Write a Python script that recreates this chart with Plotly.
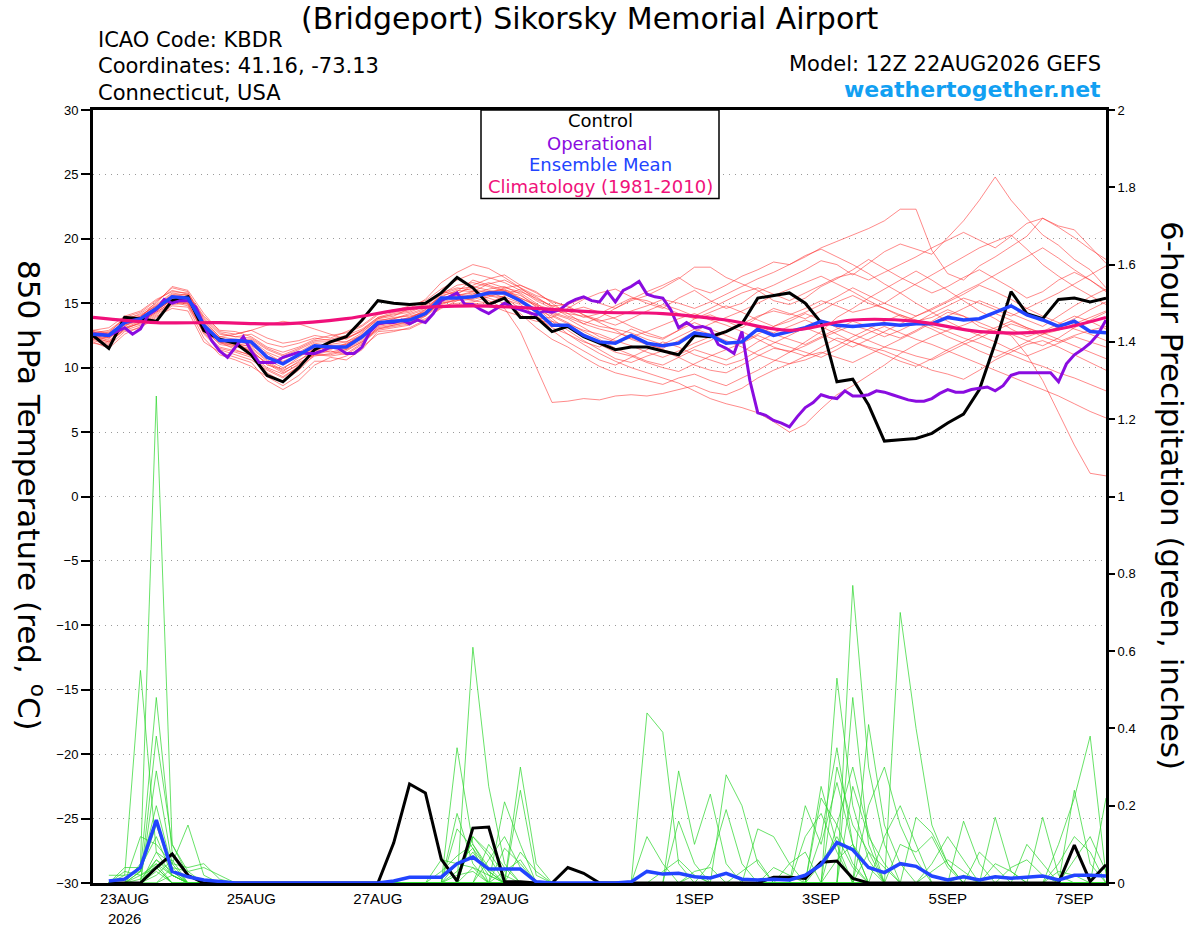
import pandas as pd
import plotly.graph_objects as go

FONT = "Liberation Sans, Arial, Helvetica, sans-serif"
WIDE_FONT = "DejaVu Sans, Verdana, sans-serif"

# ---- time axes ----
times_6h = pd.date_range("2026-08-22 12:00", periods=65, freq="6h")
times_3h = pd.date_range("2026-08-22 12:00", periods=129, freq="3h")
times_clim = pd.date_range("2026-08-22 12:00", periods=17, freq="D")
times_precip = times_6h[1:]

tick_dates = ["2026-08-23", "2026-08-25", "2026-08-27", "2026-08-29",
              "2026-09-01", "2026-09-03", "2026-09-05", "2026-09-07"]
tick_labels = ["23AUG<br>2026", "25AUG", "27AUG", "29AUG",
               "1SEP", "3SEP", "5SEP", "7SEP"]

# ---- 850 hPa temperature (deg C), 6-hourly ----
control_temp = [12.5, 11.5, 13.9, 13.8, 13.6, 15.2, 15.5, 12.9, 12.2, 11.9, 11.0, 9.4, 8.9, 10.0, 11.4,
                12.0, 12.4, 13.7, 15.2, 15.0, 14.9, 15.0, 15.8, 17.0, 16.2, 14.9, 15.4, 13.9, 13.9, 12.8,
                13.2, 12.4, 11.9, 11.4, 11.6, 11.6, 11.3, 11.0, 12.5, 12.4, 12.8, 13.4, 15.4, 15.6, 15.8,
                15.0, 13.5, 8.9, 9.1, 7.1, 4.3, 4.4, 4.5, 4.9, 5.7, 6.4, 8.3, 11.9, 15.9, 14.2,
                13.8, 15.3, 15.4, 15.1, 15.4]

mean_temp = [12.6, 12.5, 13.5, 13.8, 14.6, 15.5, 15.4, 13.3, 12.1, 12.1, 12.0, 10.8, 10.3, 11.0, 11.7,
             11.6, 11.6, 12.4, 13.5, 13.6, 13.7, 14.2, 15.4, 15.4, 15.5, 15.8, 15.8, 15.2, 14.4, 13.3,
             13.3, 12.5, 12.0, 11.9, 12.5, 11.9, 11.7, 11.9, 12.7, 12.5, 11.9, 12.0, 13.0, 12.5, 12.8,
             13.1, 13.6, 13.3, 13.2, 13.3, 13.4, 13.3, 13.4, 13.4, 13.9, 13.7, 13.8, 14.3, 14.8, 14.1,
             13.7, 13.2, 13.6, 12.8, 12.7]

# operational run, 3-hourly
oper_temp = [12.6, 12.6, 12.5, 12.8, 13.1, 12.6, 13.0, 14.1, 14.5, 15.3,
             15.0, 15.2, 15.2, 14.7, 13.3, 12.1, 11.3, 10.8, 11.6, 12.4,
             11.3, 10.4, 10.4, 10.4, 10.8, 11.0, 11.2, 11.1, 11.1, 11.3,
             11.6, 11.5, 11.1, 11.1, 11.6, 12.8, 13.4, 13.5, 13.5, 13.7,
             13.4, 13.7, 13.5, 14.2, 15.2, 15.5, 15.8, 14.9, 14.9, 14.5,
             14.2, 14.6, 15.0, 14.7, 14.5, 14.3, 14.1, 14.4, 14.3, 14.5,
             15.0, 15.3, 15.5, 15.2, 15.1, 15.9, 15.1, 16.0, 16.3, 16.7,
             15.7, 15.5, 15.4, 14.5, 13.1, 13.5, 13.1, 13.2, 13.0, 11.8,
             11.5, 11.1, 12.8, 9.0, 6.5, 6.3, 5.9, 5.7, 5.4, 6.2,
             6.9, 7.3, 7.9, 7.7, 7.6, 8.2, 7.8, 7.8, 7.9, 8.2,
             8.1, 7.9, 7.7, 7.5, 7.4, 7.4, 7.6, 8.0, 8.3, 8.1,
             8.1, 8.3, 8.4, 8.5, 8.2, 8.6, 9.4, 9.6, 9.6, 9.6,
             9.6, 9.6, 8.9, 10.3, 11.0, 11.4, 11.9, 12.6, 13.7]

# climatology (1981-2010), daily
clim_temp = [13.9, 13.5, 13.5, 13.4, 13.8, 14.6, 14.8, 14.6, 14.3, 14.2, 13.7, 12.9, 13.7, 13.6,
             12.8, 12.8, 13.9]

# ensemble members (red)
m01 = [12.8, 12.3, 13.6, 14.0, 14.9, 15.8, 15.6, 13.0, 11.8, 11.6, 11.4, 10.2, 9.9, 10.8, 11.6, 11.9, 12.3, 12.9, 13.8, 14.2, 14.4, 14.9, 15.8, 16.2, 16.0,
       15.9, 15.4, 14.6, 13.8, 13.9, 14.6, 15.3, 15.8, 16.1, 15.5, 15.0, 14.6, 15.4, 16.0, 15.2, 14.6, 15.0, 15.9, 16.4, 17.0,
       17.6, 18.3, 18.0, 17.2, 18.1, 19.0, 19.6, 19.2, 18.8, 20.1, 21.4, 23.0, 24.8, 23.0, 21.6, 20.3, 19.5, 18.4, 17.6, 16.2]
m02 = [12.4, 12.0, 13.2, 13.9, 15.1, 16.2, 15.9, 13.4, 12.0, 11.4, 10.9, 9.6, 8.9, 9.8, 11.0, 11.3, 11.0, 11.8, 13.2, 13.4, 13.6, 14.0, 15.2, 15.7, 16.4,
       16.9, 17.2, 16.4, 15.9, 15.0, 14.2, 13.4, 13.9, 14.6, 15.3, 15.9, 16.4, 17.0, 16.2, 15.8, 16.4, 17.1, 17.6, 18.2, 18.0,
       18.6, 19.3, 19.8, 20.3, 20.8, 21.4, 22.3, 22.3, 19.1, 17.3, 16.8, 17.9, 18.6, 19.4, 20.2, 21.6, 21.0, 20.7, 19.4, 18.1]
m03 = [12.1, 11.8, 13.1, 13.4, 14.2, 15.0, 15.1, 13.1, 12.2, 12.0, 11.8, 11.1, 10.4, 10.9, 11.4, 11.2, 11.5, 12.1, 13.1, 13.3, 13.5, 14.1, 15.0, 15.2, 15.3,
       15.6, 15.3, 14.9, 14.0, 13.1, 12.6, 12.0, 11.6, 12.3, 13.0, 12.5, 12.2, 12.9, 13.8, 14.1, 13.6, 13.1, 13.9, 14.6, 14.2,
       13.8, 14.4, 15.1, 15.6, 15.0, 14.6, 14.1, 13.6, 13.9, 14.5, 14.0, 13.2, 12.8, 12.5, 11.0, 9.0, 6.5, 4.0, 1.8, 1.6]
m04 = [12.3, 12.6, 13.3, 13.6, 14.4, 15.3, 15.0, 12.6, 11.4, 11.0, 10.6, 9.8, 9.2, 10.1, 11.3, 11.7, 11.8, 12.6, 13.6, 13.9, 14.0, 14.3, 15.2, 15.6, 15.8,
       15.2, 14.6, 12.8, 10.1, 7.3, 7.4, 7.6, 7.5, 7.8, 7.9, 7.8, 8.0, 8.3, 8.6, 8.1, 7.9, 8.4, 9.2, 9.8, 10.3,
       10.9, 11.2, 10.8, 10.4, 11.0, 11.6, 11.3, 10.9, 10.6, 11.2, 11.8, 12.3, 12.9, 13.4, 13.0, 12.4, 12.0, 12.5, 12.9, 13.2]
m05 = [12.9, 12.7, 13.9, 14.3, 15.2, 16.0, 15.7, 13.8, 12.6, 12.4, 12.6, 11.9, 11.6, 11.9, 12.3, 12.1, 12.0, 12.7, 13.8, 14.0, 14.6, 15.3, 16.6, 17.4, 18.0,
       17.7, 17.0, 16.2, 15.3, 14.8, 14.9, 15.4, 15.0, 14.6, 15.2, 15.6, 16.2, 16.9, 17.8, 17.8, 17.0, 16.5, 16.0, 15.2, 14.9,
       15.4, 16.3, 16.9, 17.6, 18.4, 17.7, 17.0, 16.4, 15.8, 16.3, 17.0, 17.6, 16.9, 16.2, 15.4, 15.9, 16.8, 17.4, 16.8, 16.0]
m06 = [12.0, 11.5, 12.6, 13.2, 14.0, 14.6, 14.4, 12.0, 11.2, 10.8, 10.4, 9.0, 8.3, 9.0, 10.2, 10.8, 10.6, 11.4, 12.8, 12.9, 13.0, 13.6, 14.8, 15.0, 15.1,
       15.5, 15.9, 15.6, 14.9, 13.8, 12.9, 12.1, 11.4, 10.7, 10.4, 10.9, 11.3, 10.8, 10.2, 9.8, 9.6, 10.2, 10.9, 11.5, 11.3,
       10.9, 11.6, 12.3, 12.0, 11.6, 11.3, 10.8, 10.3, 9.8, 9.5, 9.1, 9.8, 10.6, 11.2, 11.8, 12.1, 11.6, 11.0, 10.4, 9.8]
m07 = [12.7, 12.9, 13.8, 14.1, 14.8, 15.6, 15.2, 13.6, 12.4, 12.6, 12.9, 12.3, 11.9, 12.1, 12.5, 12.3, 12.8, 13.3, 14.2, 14.5, 14.6, 14.9, 15.9, 15.7, 15.4,
       15.9, 16.1, 15.4, 14.8, 14.2, 13.8, 13.1, 12.4, 12.0, 12.3, 11.9, 11.4, 11.0, 11.6, 12.1, 12.8, 13.4, 14.0, 14.4, 14.1,
       14.6, 15.2, 14.8, 14.3, 14.6, 15.0, 15.8, 16.5, 17.2, 17.9, 18.6, 19.3, 19.8, 20.3, 19.2, 18.0, 17.1, 16.3, 15.6, 14.9]
m08 = [12.5, 12.1, 13.0, 13.5, 14.3, 15.1, 15.3, 13.3, 12.1, 11.9, 11.6, 10.6, 10.0, 10.6, 11.2, 11.4, 11.9, 12.3, 13.4, 13.6, 13.8, 14.5, 15.6, 15.9, 16.8,
       16.4, 16.0, 15.8, 15.0, 14.1, 13.5, 12.8, 12.2, 11.5, 11.0, 10.5, 10.2, 10.8, 11.4, 11.0, 10.6, 11.2, 12.0, 12.6, 12.2,
       11.8, 12.4, 13.0, 13.6, 13.2, 12.7, 12.3, 12.9, 13.6, 14.3, 14.0, 13.5, 13.0, 12.6, 12.1, 11.7, 12.3, 13.1, 13.7, 14.3]
m09 = [12.2, 12.4, 13.5, 13.7, 14.5, 15.2, 14.9, 12.8, 11.6, 11.3, 11.0, 10.0, 9.5, 10.3, 11.0, 11.0, 11.3, 12.0, 13.0, 13.2, 13.4, 13.8, 14.6, 15.2, 15.6,
       15.4, 15.0, 14.2, 13.1, 12.2, 11.6, 10.8, 10.1, 9.6, 9.3, 9.0, 8.7, 9.2, 9.5, 9.0, 8.6, 9.2, 9.8, 10.5, 11.2,
       12.0, 12.8, 13.9, 14.6, 15.4, 16.1, 16.8, 17.5, 16.8, 16.0, 15.2, 14.4, 13.8, 13.0, 12.4, 12.8, 13.4, 14.0, 13.6, 13.0]
m10 = [12.6, 12.8, 13.7, 14.2, 15.0, 16.3, 16.0, 14.2, 12.8, 12.6, 12.9, 13.3, 13.6, 13.4, 13.0, 12.6, 12.2, 12.9, 13.9, 14.3, 14.5, 14.7, 15.5, 16.0, 15.9,
       15.6, 15.5, 15.0, 14.6, 14.3, 13.9, 13.4, 13.0, 12.7, 12.4, 12.8, 13.3, 13.8, 14.2, 13.7, 13.3, 12.8, 12.2, 11.6, 11.2,
       11.7, 12.3, 12.8, 13.3, 12.9, 12.4, 12.9, 13.5, 14.2, 14.8, 15.4, 15.0, 14.5, 14.0, 14.6, 15.2, 15.8, 16.5, 17.2, 17.9]
m11 = [12.4, 12.2, 13.4, 13.9, 14.7, 15.5, 15.4, 13.5, 12.3, 12.0, 11.2, 10.4, 9.7, 10.5, 11.5, 11.8, 12.0, 12.5, 13.3, 13.5, 13.9, 14.4, 15.3, 15.5, 15.2,
       15.0, 15.6, 16.1, 15.5, 14.7, 14.0, 13.6, 13.2, 13.0, 12.7, 12.2, 11.8, 12.4, 13.0, 12.6, 12.1, 11.6, 11.0, 10.6, 10.3,
       10.6, 11.1, 11.7, 12.4, 13.0, 13.6, 14.1, 13.7, 13.2, 12.8, 12.3, 11.9, 11.4, 11.0, 10.5, 10.1, 9.6, 9.2, 8.7, 8.2]
m12 = [12.7, 12.5, 13.3, 13.8, 14.6, 15.4, 15.5, 13.7, 12.4, 12.2, 12.2, 11.4, 10.9, 11.4, 12.0, 12.0, 12.3, 12.8, 13.7, 13.8, 14.1, 14.5, 15.7, 16.4, 16.6,
       16.3, 15.9, 15.4, 14.9, 14.5, 14.2, 14.0, 13.6, 13.9, 14.4, 14.8, 15.3, 15.0, 14.6, 15.1, 15.7, 16.3, 16.9, 17.4, 18.0,
       18.7, 19.2, 18.6, 18.0, 17.3, 16.5, 15.8, 15.0, 14.3, 13.6, 13.0, 12.5, 12.0, 11.4, 10.9, 11.4, 11.9, 12.4, 12.0, 11.6]
m13 = [12.3, 12.0, 12.9, 13.3, 14.1, 14.9, 15.0, 12.9, 11.9, 11.7, 11.5, 10.5, 9.8, 10.4, 11.0, 10.9, 11.1, 11.9, 12.9, 13.1, 13.3, 14.0, 14.9, 15.3, 15.6,
       15.9, 16.0, 15.3, 14.2, 12.9, 12.0, 11.3, 10.6, 10.2, 10.8, 11.4, 12.0, 11.6, 11.0, 10.6, 10.2, 10.6, 11.3, 11.9, 12.5,
       13.1, 12.6, 12.1, 11.6, 12.2, 12.8, 13.4, 14.0, 14.6, 15.2, 15.9, 16.5, 17.2, 17.9, 18.6, 19.3, 18.5, 17.6, 16.8, 15.9]
m14 = [12.9, 13.1, 14.0, 14.4, 15.3, 15.9, 15.8, 14.0, 12.9, 12.8, 12.4, 11.6, 11.2, 11.6, 12.2, 12.5, 12.7, 13.2, 14.1, 14.4, 14.8, 15.2, 16.1, 16.8, 17.3,
       17.0, 16.6, 16.0, 15.2, 14.6, 14.4, 14.7, 14.3, 13.8, 13.2, 12.7, 12.3, 12.9, 13.5, 13.0, 12.5, 12.0, 12.6, 13.2, 13.8,
       14.3, 14.9, 15.5, 16.2, 15.6, 15.0, 14.5, 14.0, 14.5, 15.1, 15.7, 16.4, 15.9, 15.3, 14.6, 14.0, 13.5, 13.0, 12.6, 12.1]
m15 = [11.9, 11.7, 12.8, 13.1, 13.9, 14.8, 14.7, 12.3, 11.0, 10.6, 10.1, 9.3, 8.6, 9.4, 10.5, 10.5, 10.9, 11.6, 12.6, 12.8, 13.1, 13.7, 14.7, 14.9, 15.0,
       14.9, 14.4, 14.0, 13.6, 13.6, 13.2, 12.6, 11.8, 11.2, 10.9, 10.4, 10.0, 9.7, 10.3, 10.9, 11.4, 11.9, 12.5, 12.0, 11.6,
       11.2, 10.8, 11.4, 12.1, 12.7, 13.2, 12.7, 12.2, 11.8, 11.3, 10.8, 10.3, 9.8, 9.3, 8.8, 8.3, 7.8, 7.2, 6.6, 6.1]
m16 = [12.5, 12.3, 13.1, 13.6, 14.4, 15.3, 15.1, 13.2, 12.0, 11.8, 11.7, 10.9, 10.5, 11.0, 11.5, 11.5, 11.7, 12.2, 13.3, 13.6, 13.9, 14.3, 15.1, 15.4, 15.7,
       16.1, 16.3, 15.7, 14.7, 13.6, 12.6, 11.8, 11.1, 10.5, 10.0, 9.6, 9.2, 8.8, 8.2, 7.6, 7.2, 6.9, 6.5, 5.8, 5.0,
       5.6, 6.8, 7.9, 8.6, 9.4, 10.2, 11.1, 11.8, 12.4, 12.9, 13.3, 13.8, 14.2, 13.7, 13.1, 12.6, 12.9, 13.4, 13.9, 14.4]
m17 = [12.6, 12.4, 13.6, 14.0, 14.8, 15.7, 15.5, 13.4, 12.2, 12.1, 12.1, 11.2, 10.7, 11.2, 11.9, 11.7, 11.4, 12.4, 13.5, 13.7, 13.8, 14.2, 15.0, 15.3, 15.4,
       15.7, 16.2, 16.4, 15.8, 15.1, 14.8, 14.1, 13.7, 13.3, 13.8, 14.4, 14.9, 14.5, 14.0, 14.6, 15.2, 15.8, 16.2, 15.7, 15.2,
       15.8, 16.4, 17.0, 17.3, 16.8, 17.4, 18.0, 18.6, 19.3, 19.9, 20.5, 19.9, 19.3, 20.2, 21.2, 21.6, 20.9, 20.1, 19.2, 18.4]
m18 = [12.2, 11.9, 13.0, 13.5, 14.3, 15.1, 14.8, 12.7, 11.5, 11.2, 10.8, 9.9, 9.3, 10.1, 10.9, 11.1, 11.4, 12.0, 13.0, 13.3, 13.6, 14.1, 15.2, 15.8, 16.2,
       16.6, 16.2, 15.9, 15.4, 14.8, 14.4, 13.9, 14.2, 14.8, 15.4, 15.2, 14.7, 14.2, 13.8, 14.3, 14.8, 14.3, 13.7, 13.2, 13.6,
       14.2, 13.7, 13.1, 12.6, 12.1, 11.6, 12.2, 12.8, 13.5, 14.0, 14.6, 15.2, 14.7, 14.2, 13.7, 13.2, 14.0, 14.8, 15.5, 16.1]
m19 = [12.8, 12.6, 13.4, 13.9, 14.7, 15.6, 15.7, 13.9, 12.7, 12.4, 12.3, 11.5, 11.0, 11.5, 12.1, 12.2, 12.5, 13.0, 13.9, 14.1, 14.3, 14.8, 15.7, 16.1, 16.3,
       16.0, 15.7, 15.1, 14.5, 14.0, 13.4, 12.9, 12.6, 12.1, 11.7, 11.2, 10.8, 11.3, 11.9, 12.4, 12.9, 13.5, 13.1, 12.7, 13.2,
       13.7, 13.2, 12.6, 12.0, 11.5, 11.0, 10.5, 10.1, 10.7, 11.4, 12.0, 12.6, 13.1, 13.6, 13.1, 12.7, 12.2, 11.7, 11.2, 10.7]
m20 = [12.4, 12.7, 13.5, 13.8, 14.6, 15.4, 15.2, 13.1, 12.0, 11.7, 11.3, 10.3, 9.6, 10.2, 11.1, 11.5, 11.8, 12.5, 13.4, 13.8, 14.2, 14.6, 15.4, 15.6, 15.9,
       16.5, 16.8, 16.2, 15.6, 15.2, 14.7, 14.1, 13.5, 12.9, 12.2, 11.8, 11.5, 12.1, 12.8, 13.4, 13.9, 14.4, 15.0, 15.6, 16.1,
       16.6, 17.1, 16.5, 15.9, 15.2, 14.6, 14.0, 13.5, 13.0, 12.4, 11.9, 11.3, 10.8, 11.4, 12.0, 12.6, 13.2, 13.8, 14.5, 15.1]
member_temps = [m01, m02, m03, m04, m05, m06, m07, m08, m09, m10,
                m11, m12, m13, m14, m15, m16, m17, m18, m19, m20]

# ---- 6-hour precipitation (inches), starting 18Z 22AUG ----
control_precip = [0, 0, 0, 0.04, 0.075, 0.02, 0, 0, 0, 0, 0, 0,
                  0, 0, 0, 0, 0, 0, 0.104, 0.256, 0.233, 0.062, 0.005, 0.142, 0.145, 0.003, 0.003, 0,
                  0, 0.04, 0.025, 0, 0, 0, 0, 0, 0, 0, 0, 0, 0, 0, 0.015, 0.015,
                  0.012, 0.054, 0.057, 0.012, 0, 0, 0, 0, 0, 0, 0, 0, 0, 0, 0, 0, 0, 0.098, 0.004, 0.047]
mean_precip = [0.005, 0.01, 0.04, 0.163, 0.03, 0.016, 0.008, 0.003, 0, 0, 0, 0,
               0, 0, 0, 0, 0, 0, 0.005, 0.015, 0.015, 0.015, 0.05, 0.067, 0.036, 0.036, 0.036, 0.003,
               0, 0, 0, 0, 0, 0.003, 0.03, 0.023, 0.025, 0.016, 0.013, 0.025, 0.01, 0.008, 0.01, 0.008,
               0.02, 0.047, 0.105, 0.086, 0.04, 0.027, 0.05, 0.043, 0.018, 0.008, 0.016, 0.008, 0.016, 0.012,
               0.014, 0.018, 0.008, 0.02, 0.02, 0.018]

g01 = [0, 0, .05, 1.26, .1, .03, 0, 0, 0, 0, 0, 0,
       0, 0, 0, 0, 0, 0, 0, 0, 0, 0, .03, .08, .02, 0, 0, 0,
       0, 0, 0, 0, 0, 0, 0, 0, 0, .02, 0, 0, 0, 0, 0, 0,
       0, .05, .12, .04, 0, 0, 0, 0, 0, 0, .02, 0, 0, 0, 0, 0, 0, 0, 0, 0]
g02 = [0, .02, .55, .08, .02, 0, 0, 0, 0, 0, 0, 0,
       0, 0, 0, 0, 0, 0, 0, 0, 0, 0, 0, .61, .25, .05, 0, 0,
       0, 0, 0, 0, 0, 0, .44, .39, .05, 0, 0, 0, 0, 0, 0, 0,
       0, 0, 0, 0, 0, 0, .7, .4, .15, .05, 0, 0, 0, 0, 0, 0, 0, 0, 0, 0]
g03 = [0, 0, .03, .48, .08, .02, 0, 0, 0, 0, 0, 0,
       0, 0, 0, 0, 0, 0, 0, 0, 0, 0, .35, .1, .03, 0, 0, 0,
       0, 0, 0, 0, 0, 0, 0, 0, 0, 0, 0, 0, 0, 0, 0, 0,
       0, 0, .53, .2, .06, 0, 0, 0, 0, 0, 0, 0, 0, 0, 0, 0, .1, .22, .38, .02]
g04 = [0, 0, 0, .38, .1, .02, 0, 0, 0, 0, 0, 0,
       0, 0, 0, 0, 0, 0, 0, 0, 0, 0, 0, 0, 0, 0, .3, .05,
       0, 0, 0, 0, 0, 0, 0, 0, 0, 0, 0, 0, 0, 0, 0, 0,
       0, 0, 0, .77, .3, .1, 0, 0, 0, 0, 0, 0, 0, 0, 0, 0, 0, 0, 0, 0]
g05 = [0, 0, 0, .29, .05, 0, 0, 0, 0, 0, 0, 0,
       0, 0, 0, 0, 0, 0, 0, 0, 0, 0, 0, 0, 0, .21, .1, 0,
       0, 0, 0, 0, 0, 0, 0, 0, .29, .1, .23, .05, 0, 0, 0, 0,
       0, 0, 0, 0, .41, .15, .05, 0, 0, 0, 0, 0, 0, 0, 0, 0, 0, 0, 0, 0]
g06 = [0, 0, .12, .1, .05, .15, .02, 0, 0, 0, 0, 0,
       0, 0, 0, 0, 0, 0, 0, 0, 0, 0, 0, 0, 0, 0, .24, .02,
       0, 0, 0, 0, 0, 0, 0, 0, 0, 0, 0, .28, .2, .05, 0, 0,
       0, 0, 0, .48, .1, 0, 0, 0, 0, 0, 0, 0, 0, 0, 0, 0, 0, 0, 0, 0]
g07 = [0, .04, .04, .12, .02, 0, 0, 0, 0, 0, 0, 0,
       0, 0, 0, 0, 0, 0, 0, 0, 0, 0, .18, .05, 0, 0, 0, 0,
       0, 0, 0, 0, 0, 0, 0, 0, 0, 0, 0, 0, 0, .14, .12, .05,
       0, .25, .1, 0, 0, 0, 0, 0, 0, 0, 0, 0, .17, .03, 0, 0, 0, 0, 0, 0]
g08 = [.02, .02, .03, .15, .03, 0, 0, 0, 0, 0, 0, 0,
       0, 0, 0, 0, 0, 0, 0, 0, 0, 0, .14, .09, .03, 0, 0, 0,
       0, 0, 0, 0, 0, 0, 0, 0, 0, 0, 0, 0, 0, 0, 0, 0,
       .2, .1, .26, .1, 0, 0, 0, 0, 0, 0, 0, 0, 0, 0, 0, .17, .02, 0, 0, 0]
g09 = [0, 0, 0, .08, .05, .04, .05, .01, 0, 0, 0, 0,
       0, 0, 0, 0, 0, 0, 0, 0, 0, .06, .05, .09, 0, 0, 0, 0,
       0, 0, 0, 0, 0, 0, 0, 0, 0, 0, 0, 0, 0, 0, 0, 0,
       0, .22, .15, .05, 0, 0, 0, 0, 0, 0, .16, .05, 0, 0, 0, 0, 0, 0, 0, 0]
g10 = [0, 0, 0, .06, .03, 0, 0, 0, 0, 0, 0, 0,
       0, 0, 0, 0, 0, 0, 0, 0, 0, 0, 0, 0, 0, .09, .05, 0,
       0, 0, 0, 0, 0, 0, .12, .05, 0, 0, 0, 0, 0, 0, 0, 0,
       0, 0, 0, 0, 0, 0, 0, .17, .13, .05, 0, 0, 0, 0, 0, 0, 0, 0, 0, 0]
g11 = [0, 0, .03, .2, .04, 0, 0, 0, 0, 0, 0, 0,
       0, 0, 0, 0, 0, 0, 0, 0, 0, 0, 0, .12, .07, 0, 0, 0,
       0, 0, 0, 0, 0, 0, 0, 0, .16, .05, 0, 0, 0, 0, 0, 0,
       0, 0, .3, .15, .08, 0, 0, 0, 0, 0, 0, 0, 0, 0, 0, 0, 0, .24, .05, 0]
g12 = [0, 0, 0, 0, .04, .03, .04, .02, 0, 0, 0, 0,
       0, 0, 0, 0, 0, 0, 0, 0, 0, 0, 0, 0, .1, .04, 0, 0,
       0, 0, 0, 0, 0, 0, 0, 0, 0, 0, .05, .19, .05, 0, 0, 0,
       0, 0, 0, 0, 0, .12, .2, .1, 0, 0, 0, 0, 0, 0, 0, 0, 0, 0, 0, .22]
g13 = [0, .03, .02, .04, 0, 0, 0, 0, 0, 0, 0, 0,
       0, 0, 0, 0, 0, 0, 0, 0, 0, .03, .07, .1, .04, 0, 0, 0,
       0, 0, 0, 0, 0, 0, 0, 0, 0, 0, 0, 0, 0, 0, 0, .05,
       .08, 0, 0, 0, .2, .3, .15, .06, 0, 0, 0, 0, 0, .04, .06, .02, 0, 0, 0, 0]
g14 = [0, 0, 0, .02, .06, 0, 0, 0, 0, 0, 0, 0,
       0, 0, 0, 0, 0, 0, 0, 0, 0, 0, 0, .12, .08, .02, 0, 0,
       0, 0, 0, 0, 0, 0, 0, 0, 0, 0, 0, 0, 0, 0, 0, 0,
       0, .12, .35, .1, 0, 0, 0, 0, .05, .12, .06, 0, 0, 0, 0, 0, 0, 0, 0, 0]
g15 = [0, 0, .02, .05, 0, 0, 0, 0, 0, 0, 0, 0,
       0, 0, 0, 0, 0, 0, 0, 0, 0, 0, 0, 0, 0, 0, .08, .03,
       0, 0, 0, 0, 0, 0, 0, 0, 0, 0, 0, 0, .03, .06, 0, 0,
       0, 0, 0, .25, .12, .05, 0, 0, 0, 0, 0, 0, 0, 0, 0, 0, .05, .12, .08, 0]
g16 = [0, 0, 0, .03, 0, 0, 0, 0, 0, 0, 0, 0,
       0, 0, 0, 0, 0, 0, 0, 0, 0, 0, .05, .04, 0, 0, 0, 0,
       0, 0, 0, 0, 0, 0, 0, .03, .06, .02, 0, 0, 0, 0, 0, 0,
       0, 0, 0, 0, 0, 0, .1, .08, .12, .04, 0, 0, 0, 0, .1, .05, 0, 0, 0, 0]
g17 = [0, 0, .01, .06, .02, 0, 0, 0, 0, 0, 0, 0,
       0, 0, 0, 0, 0, 0, 0, 0, 0, 0, 0, 0, .06, .12, .04, 0,
       0, 0, 0, 0, 0, 0, 0, 0, 0, 0, 0, 0, 0, 0, 0, 0,
       .12, .18, .08, 0, 0, 0, 0, 0, 0, 0, 0, .08, .04, 0, 0, 0, 0, 0, 0, 0]
g18 = [0, 0, 0, 0, .02, 0, 0, 0, 0, 0, 0, 0,
       0, 0, 0, 0, 0, 0, 0, 0, 0, 0, 0, .04, .02, 0, 0, 0,
       0, 0, 0, 0, 0, 0, 0, 0, 0, 0, 0, 0, 0, 0, .04, .02,
       0, 0, .06, .1, .04, 0, 0, 0, 0, 0, 0, 0, 0, 0, 0, 0, 0, .06, .12, .03]
g19 = [0, 0, 0, .05, .02, 0, 0, 0, 0, 0, 0, 0,
       0, 0, 0, 0, 0, 0, 0, 0, 0, 0, 0, 0, 0, .03, .06, 0,
       0, 0, 0, 0, 0, 0, 0, 0, 0, 0, 0, 0, 0, 0, 0, 0,
       0, 0, 0, 0, .08, .04, 0, 0, .03, .06, .03, 0, 0, 0, 0, 0, .03, .02, 0, 0]
g20 = [0, 0, 0, .04, 0, 0, 0, 0, 0, 0, 0, 0,
       0, 0, 0, 0, 0, 0, 0, 0, 0, 0, .02, .03, 0, 0, 0, 0,
       0, 0, 0, 0, 0, 0, 0, 0, 0, .03, .04, 0, 0, 0, 0, 0,
       0, 0, .15, .3, .13, 0, 0, 0, 0, 0, 0, 0, .05, .03, 0, 0, 0, 0, 0, 0]
member_precip = [g01, g02, g03, g04, g05, g06, g07, g08, g09, g10,
                 g11, g12, g13, g14, g15, g16, g17, g18, g19, g20]

for name, seq, n in ([("control_temp", control_temp, 65), ("mean_temp", mean_temp, 65),
                      ("oper_temp", oper_temp, 129), ("control_precip", control_precip, 64),
                      ("mean_precip", mean_precip, 64)]
                     + [(f"m{i+1:02d}", m, 65) for i, m in enumerate(member_temps)]
                     + [(f"g{i+1:02d}", g, 64) for i, g in enumerate(member_precip)]):
    assert len(seq) == n, f"{name} has {len(seq)} values, expected {n}"

# ---- styling ----
RED = "rgba(255,45,45,0.7)"
GREEN = "rgba(45,215,45,0.9)"
BLACK = "#000000"
PURPLE = "#8a0ce0"
BLUE = "#2244ff"
PINK = "#f0107a"

fig = go.Figure()

for m in member_temps:
    fig.add_trace(go.Scatter(x=times_6h, y=m, mode="lines",
                             line=dict(color=RED, width=0.8), yaxis="y"))

fig.add_trace(go.Scatter(x=times_6h, y=control_temp, mode="lines",
                         line=dict(color=BLACK, width=3), yaxis="y"))
fig.add_trace(go.Scatter(x=times_3h, y=oper_temp, mode="lines",
                         line=dict(color=PURPLE, width=3), yaxis="y"))
fig.add_trace(go.Scatter(x=times_6h, y=mean_temp, mode="lines",
                         line=dict(color=BLUE, width=3.5), yaxis="y"))
fig.add_trace(go.Scatter(x=times_clim, y=clim_temp, mode="lines",
                         line=dict(color=PINK, width=3.2, shape="spline"), yaxis="y"))

for g in member_precip:
    fig.add_trace(go.Scatter(x=times_precip, y=g, mode="lines",
                             line=dict(color=GREEN, width=0.8), yaxis="y2"))
fig.add_trace(go.Scatter(x=times_precip, y=control_precip, mode="lines",
                         line=dict(color=BLACK, width=3), yaxis="y2"))
fig.add_trace(go.Scatter(x=times_precip, y=mean_precip, mode="lines",
                         line=dict(color=BLUE, width=3.5), yaxis="y2"))

# plot area: x 93..1106, y 110..883 px
L, R, T, B = 93, 94, 110, 44
PW, PH = 1200 - L - R, 927 - T - B


def px(x):
    return (x - L) / PW


def py(y):
    return (927 - B - y) / PH


fig.update_layout(
    width=1200, height=927,
    margin=dict(l=L, r=R, t=T, b=B, autoexpand=False),
    paper_bgcolor="white", plot_bgcolor="white",
    showlegend=False, hovermode=False,
    font=dict(family=FONT, color="black"),
    xaxis=dict(
        type="date", range=[times_6h[0], times_6h[-1]],
        tickmode="array", tickvals=tick_dates, ticktext=tick_labels,
        tickfont=dict(size=15), ticks="", showgrid=False, zeroline=False,
        showline=True, linecolor="black", linewidth=3, mirror=True,
        automargin=False,
    ),
    yaxis=dict(
        range=[-30, 30], tickmode="linear", tick0=-30, dtick=5,
        ticks="outside", ticklen=9, tickwidth=1.5, tickcolor="black",
        tickfont=dict(size=13),
        showgrid=True, gridcolor="#9a9a9a", griddash="1px,5px", gridwidth=1.2,
        zeroline=False, showline=True, linecolor="black", linewidth=3, mirror=True,
        automargin=False,
    ),
    yaxis2=dict(
        overlaying="y", side="right", range=[0, 2],
        tickmode="linear", tick0=0, dtick=0.2,
        ticks="outside", ticklen=6, tickwidth=1.5, tickcolor="black",
        tickfont=dict(size=13), showgrid=False, zeroline=False,
        showline=True, linecolor="black", linewidth=3, automargin=False,
    ),
)

# legend box
fig.add_shape(type="rect", xref="paper", yref="paper",
              x0=px(481), x1=px(719), y0=py(198.5), y1=py(110),
              line=dict(color="black", width=1.5), fillcolor="white", layer="above")
legend_rows = [("Control", BLACK, 121), ("Operational", PURPLE, 143),
               ("Ensemble Mean", BLUE, 164), ("Climatology (1981-2010)", PINK, 186)]
for text, color, ypix in legend_rows:
    fig.add_annotation(text=text, xref="paper", yref="paper", x=px(600), y=py(ypix),
                       xanchor="center", yanchor="middle", showarrow=False,
                       font=dict(size=18, color=color, family=WIDE_FONT))

# header texts
fig.add_annotation(text="(Bridgeport) Sikorsky Memorial Airport", xref="paper", yref="paper",
                   x=px(590), y=py(19), xanchor="center", yanchor="middle", showarrow=False,
                   font=dict(size=30, family=WIDE_FONT))
for text, ypix in [("ICAO Code: KBDR", 40), ("Coordinates: 41.16, -73.13", 66),
                   ("Connecticut, USA", 93)]:
    fig.add_annotation(text=text, xref="paper", yref="paper", x=px(96), y=py(ypix),
                       xanchor="left", yanchor="middle", showarrow=False,
                       font=dict(size=21, family=WIDE_FONT))
fig.add_annotation(text="Model: 12Z 22AUG2026 GEFS", xref="paper", yref="paper",
                   x=px(1103), y=py(64), xanchor="right", yanchor="middle", showarrow=False,
                   font=dict(size=21, family=WIDE_FONT))
fig.add_annotation(text="<b>weathertogether.net</b>", xref="paper", yref="paper",
                   x=px(1103), y=py(89), xanchor="right", yanchor="middle", showarrow=False,
                   font=dict(size=22, color="#12a0f2", family=WIDE_FONT))

# axis titles (read top-to-bottom)
fig.add_annotation(text="850 hPa Temperature (red, <sup>o</sup>C)", xref="paper", yref="paper",
                   x=px(31), y=py(495), xanchor="center", yanchor="middle", textangle=90,
                   showarrow=False, font=dict(size=31, family=WIDE_FONT))
fig.add_annotation(text="6-hour Precipitation (green, inches)", xref="paper", yref="paper",
                   x=px(1172), y=py(495), xanchor="center", yanchor="middle", textangle=90,
                   showarrow=False, font=dict(size=31, family=WIDE_FONT))

# page body has a default 8px margin; drop it so the figure fills the window exactly
fig.write_html("out.html", config={"displayModeBar": False},
               post_script="document.body.style.margin='0';")
